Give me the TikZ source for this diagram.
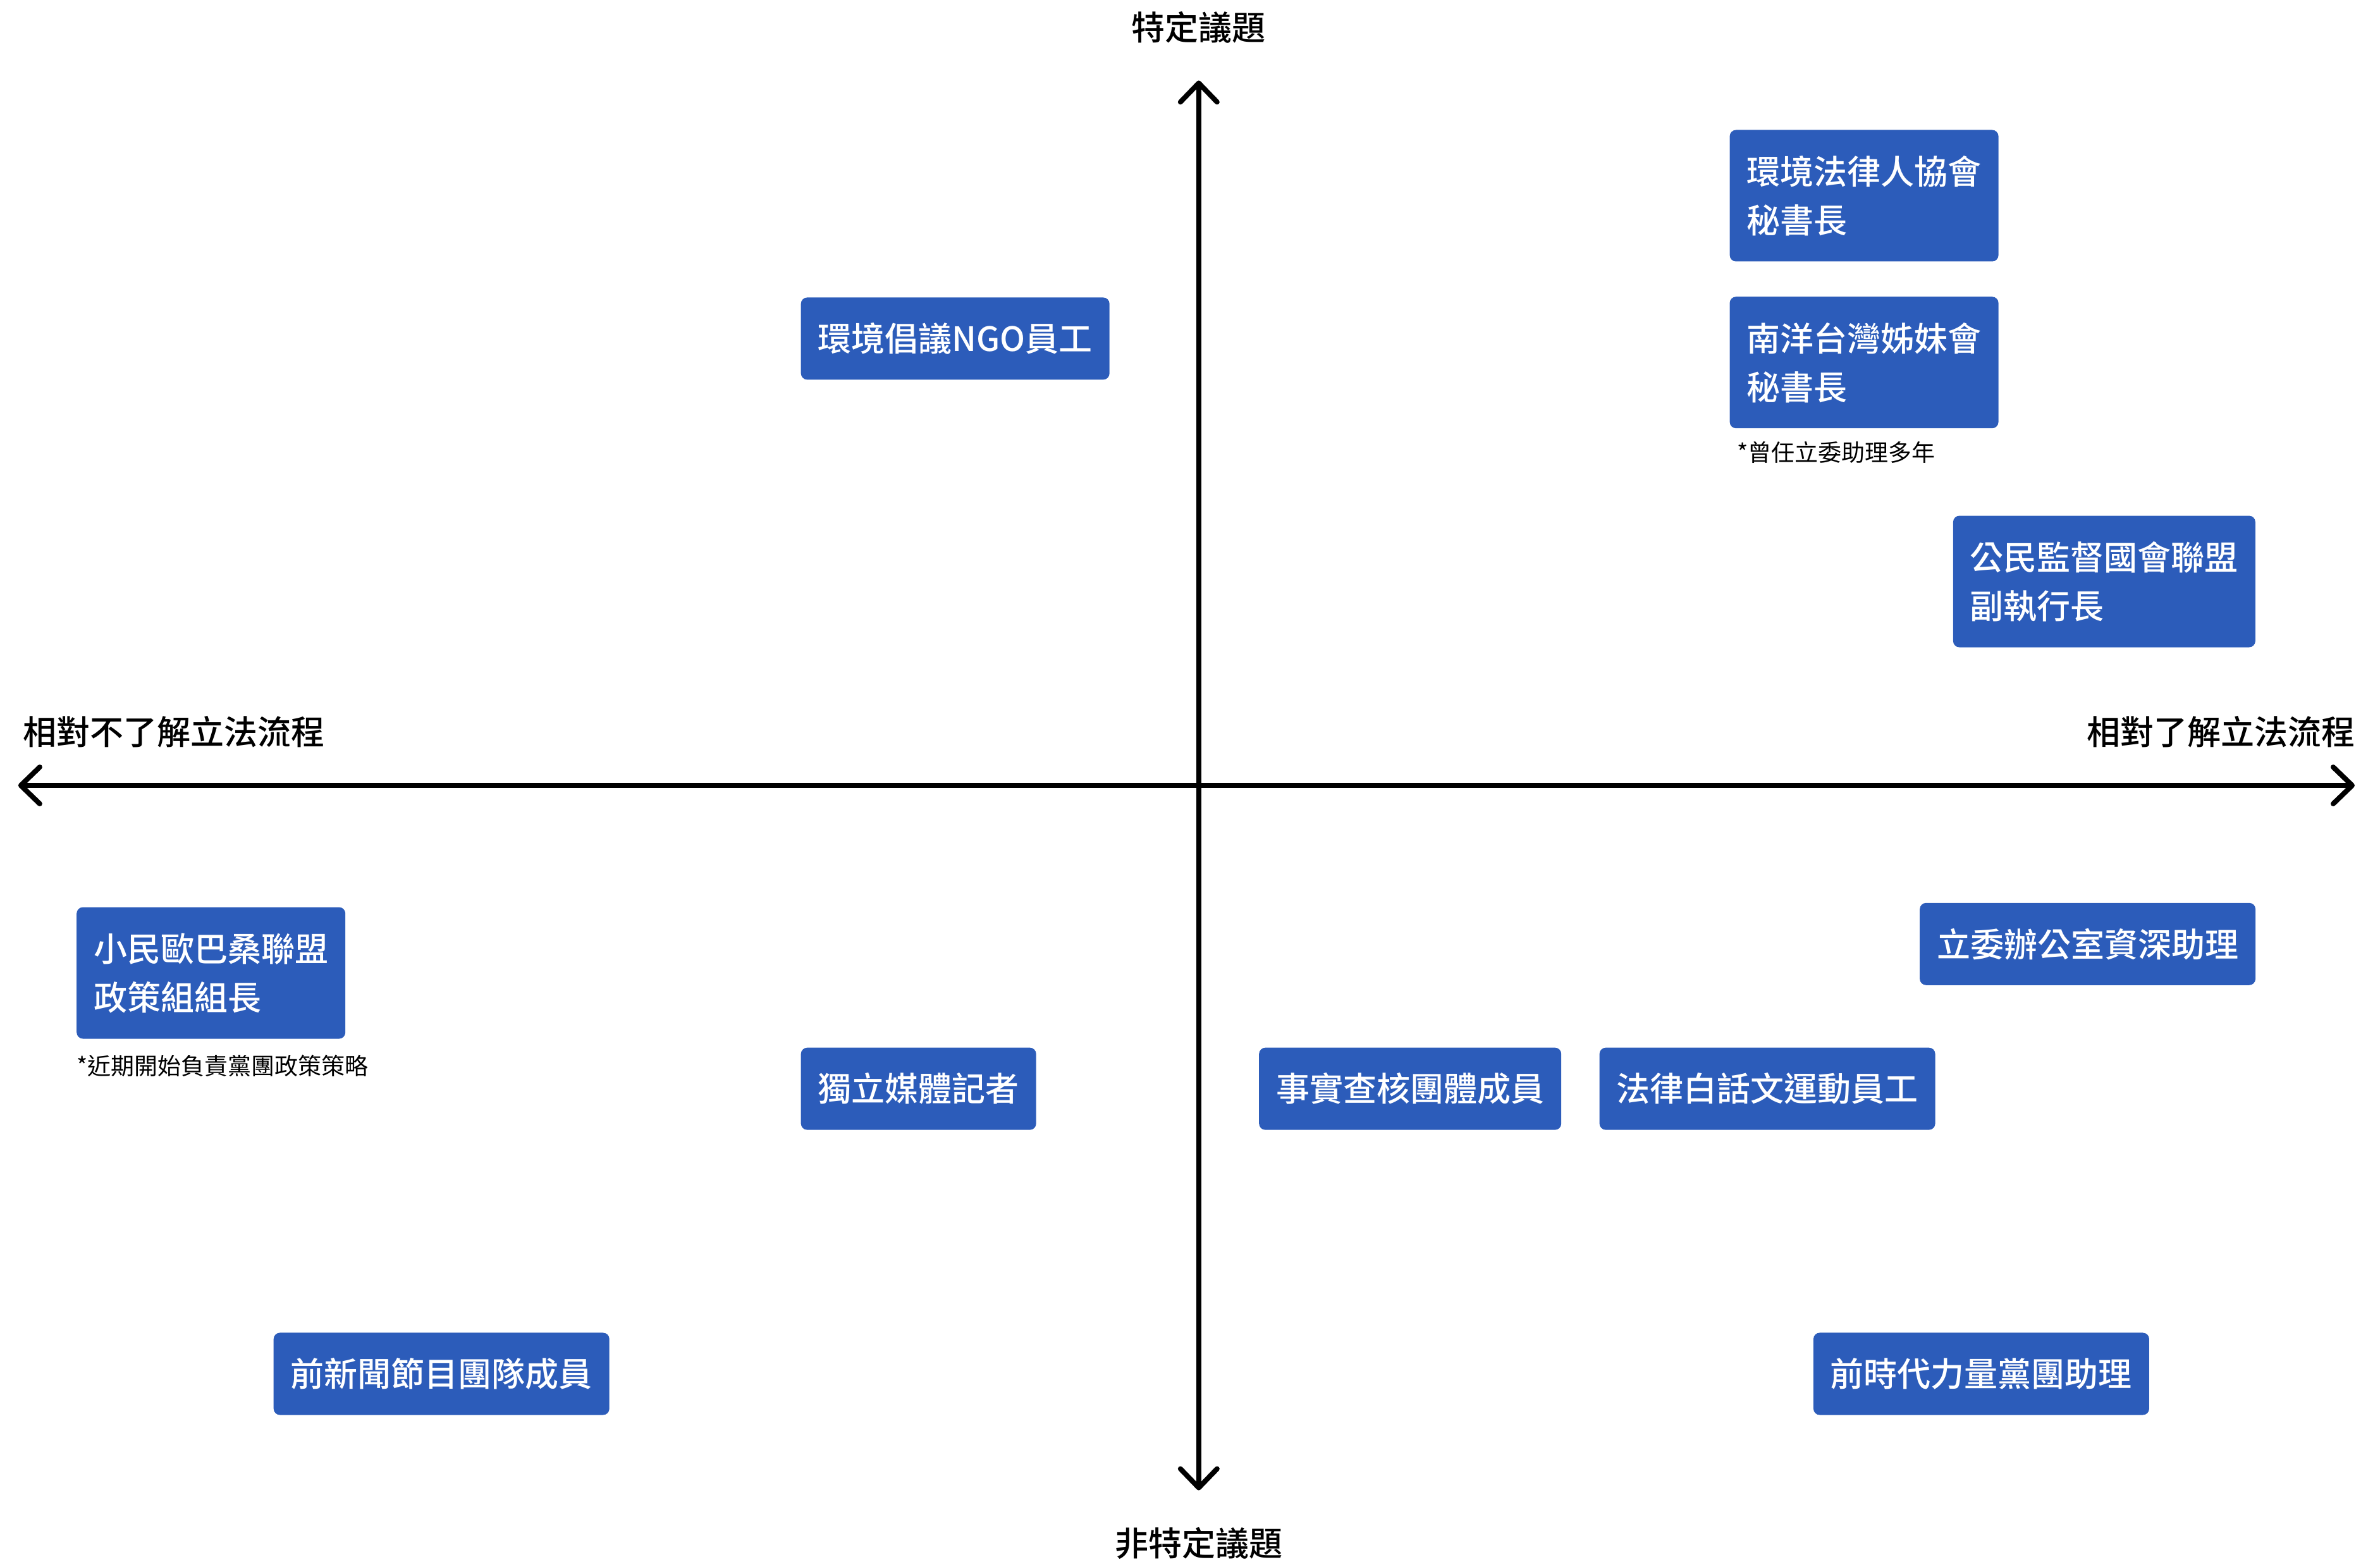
\documentclass[tikz,border=0pt]{standalone}
\usepackage{fontspec}
\setmainfont{Noto Sans CJK TC}
\newfontfamily\cjkmed{Noto Sans CJK TC Medium}
\usetikzlibrary{arrows.meta}
\definecolor{boxblue}{HTML}{2C5CBA}
\begin{document}
\begin{tikzpicture}[x=0.2488pt,y=-0.2488pt,
  person/.style={fill=boxblue, rounded corners=2.5pt, text=white,
    font=\cjkmed\fontsize{13.25pt}{19.25pt}\selectfont,
    inner xsep=6.75pt, inner ysep=0pt, anchor=west, align=left},
  one/.style={person, minimum height=32.5pt},
  two/.style={person, minimum height=52pt},
  note/.style={font=\fontsize{9.25pt}{11pt}\selectfont, anchor=west, inner sep=0pt},
  axislabel/.style={font=\cjkmed\fontsize{13.25pt}{16pt}\selectfont, inner sep=0pt},
  axis/.style={line width=2pt,
    {Straight Barb[length=7.5pt,width=14.5pt,round]}-{Straight Barb[length=7.5pt,width=14.5pt,round]}}
]
\useasboundingbox (0pt,0pt) rectangle (941pt,-617.5pt);
% axes
\coordinate (L) at (29,1248);
\coordinate (R) at (3742,1248);
\coordinate (T) at (1905,128);
\coordinate (B) at (1905,2368);
\draw[axis] (L) -- (R);
\draw[axis] (T) -- (B);
% axis labels
\node[axislabel] (top) at (1905,44) {特定議題};
\node[axislabel] (bottom) at (1905,2452) {非特定議題};
\node[axislabel, anchor=west] (left) at (36,1163) {相對不了解立法流程};
\node[axislabel, anchor=east] (right) at (3743,1163) {相對了解立法流程};
% boxes
\node[two] (b1) at (2748,311) {環境法律人協會\\秘書長};
\node[two] (b2) at (2748,576) {南洋台灣姊妹會\\秘書長};
\node[note] (n2) at (2760,719) {*曾任立委助理多年};
\node[one] (b3) at (1272,538) {環境倡議NGO員工};
\node[two] (b4) at (3103,924) {公民監督國會聯盟\\副執行長};
\node[one] (b5) at (3050,1500) {立委辦公室資深助理};
\node[two] (b6) at (121,1546) {小民歐巴桑聯盟\\政策組組長};
\node[note] (n6) at (121,1694) {*近期開始負責黨團政策策略};
\node[one] (b7) at (1272,1730) {獨立媒體記者};
\node[one] (b8) at (2000,1730) {事實查核團體成員};
\node[one] (b9) at (2541,1730) {法律白話文運動員工};
\node[one] (b10) at (434,2183) {前新聞節目團隊成員};
\node[one] (b11) at (2881,2183) {前時代力量黨團助理};
\end{tikzpicture}
\end{document}
